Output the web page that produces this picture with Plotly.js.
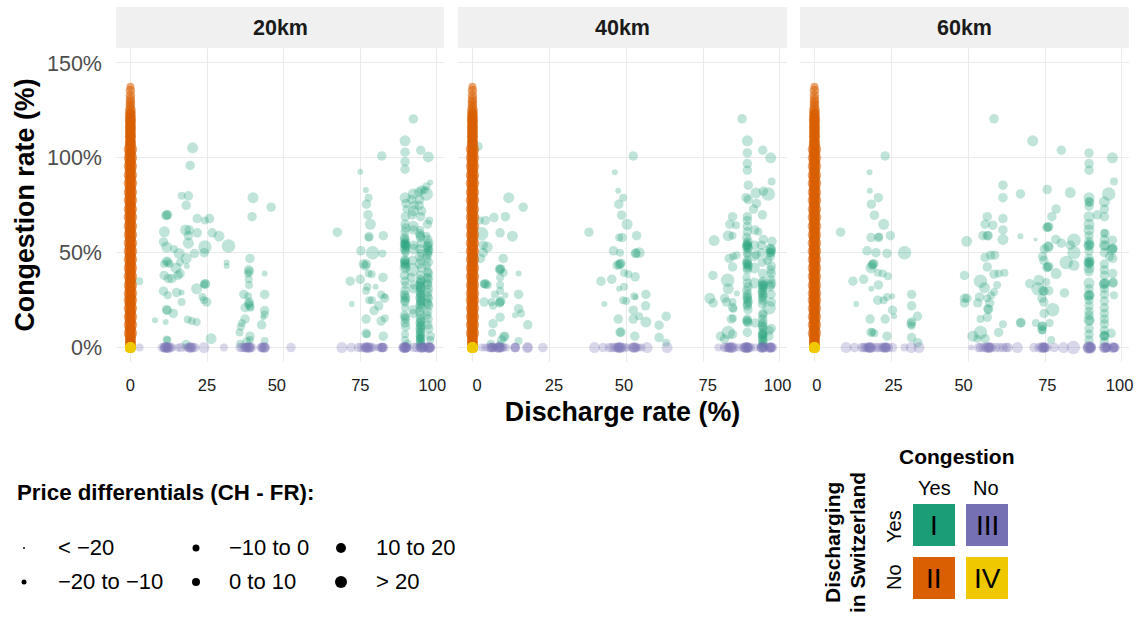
<!DOCTYPE html>
<html><head><meta charset="utf-8">
<script src="https://cdn.plot.ly/plotly-3.0.1.min.js"></script>
<style>html,body{margin:0;padding:0;background:#fff}</style></head>
<body><div id="chart" style="width:1139px;height:619px"></div>
<script>
// ---------- data: [discharge %, congestion %, price bin index] ----------
const panels = ['20km','40km','60km'];
const priceBins = ['< −20','−20 to −10','−10 to 0','0 to 10','10 to 20','> 20'];
const legendDiameter = [2,5,7,8,10,12];
const binDiameter = [4,6,8,9.5,11,13.5];
const quadrantNames = ['I','II','III','IV'];

const greenA = [
[2.9,35,2],[8,14.4,1],[11.5,13.5,1],[11.8,70,3],[12.2,70,3],[11.6,69.5,3],[11.1,61,4],[10.8,55.7,3],[11.8,53,4],[14.2,52,2],
[11.8,45.5,3],[12.2,45,3],[11,44,2],[12.8,44,2],[11,38,3],[12.4,36.4,3],[13.5,36.4,3],[14.9,42,4],[15.9,49.6,4],[16.2,45,2],
[16.2,39,3],[15.5,38,3],[10.8,29.7,3],[12.2,27.6,2],[11.8,20,3],[12,19.6,3],[14,18,3],[11.8,4.2,2],[12.1,3.8,2],[15.1,29,3],
[16.7,29,1],[16.7,24,2],[18.7,14.8,2],[20,14,2],[21.6,13.5,2],[18.2,47,4],[18.4,43,1],[20.9,49.6,3],[18,62,4],[19.2,62,3],
[18.9,59,3],[18.9,55,4],[21.8,60.5,3],[16.7,80,2],[18.9,80,3],[18.2,75,3],[19.5,96,3],[20.3,105.3,4],[21.8,68,3],[24.3,67,2],
[25.8,68,3],[26.7,60.5,3],[28.9,58.7,4],[32,53.6,5],[24.3,53,5],[24.1,50,3],[21.6,31,4],[24.3,33.7,3],[24.5,33.4,3],[24,33.2,2],
[23.5,26.7,2],[24.9,24,3],[24,25,2],[26.3,4.7,4],[18.2,1.6,3],[31.4,44.8,1],[31.4,43,1],
[39,47,3],[38.6,41,3],[38.8,40,3],[38.4,39,2],[38.6,36,2],[38.7,33,2],[37,28,3],[38.4,27,2],[38.8,24,3],[38.6,23,3],
[38.9,22,3],[37.4,21,3],[39.2,21,2],[37.4,15,3],[36.4,13,2],[36,11,2],[35.6,8,2],[39,6,3],[39,4,2],[38,3,3],[35.8,2,2],
[39.7,69,3],[40,79,4],[45.9,74,3],[43.8,39,1],[43.8,28,3],[43.8,19.5,3],[43.8,17.5,2],[43.3,16,1],[42.8,12,3],[43.8,3.5,2],
[75,92.7,1],[76.8,83,1],[77.7,79,2],[77,75.6,3],[77.5,70,3],[78.3,65,4],[77.9,58.5,3],[77.7,58,2],[82.5,59,3],[67.5,60.8,3],
[75.2,51,3],[79,50,5],[82.2,49.6,2],[76,44,3],[77,44,3],[76.6,43,3],[77.7,39,2],[78.7,38.6,2],[75,36,3],[71.7,35,3],
[77.3,32,2],[76.9,30,2],[72.2,23,1],[77.9,25,2],[78.8,25,2],[81.8,28,2],[82.9,26,3],[81,22,3],[79.5,19.5,3],[76.9,15,3],
[81.8,14,3],[83,15.5,2],[76.9,7.5,3],[77.1,7,2],[82.5,6,3],[82,101,3],[80,32,1],[82.4,37,3],[83,27,1],
[89.6,109,4],[89.6,103,3],[89.6,98,3],[89.6,94,3],[89.6,79,4],[89.9,76,3],[90,73,2],[89.7,69,3],[89.6,65,3],[89.8,63,3],
[89.6,61,3],[89.4,58,3],[89.7,56,3],[89.6,54,3],[89.9,54,3],[89.4,52,3],[89.7,50,2],[89.6,46,3],[89.5,45,3],[89.8,44,3],
[89.6,42,4],[89.4,38,3],[89.6,35,3],[89.7,33,2],[89.6,30,3],[89.4,28,3],[89.8,26,3],[89.6,24,3],[89.6,21,2],[89.4,17,3],
[89.7,15,3],[89.6,13,3],[89.8,11,3],[89.6,7,2],[89.6,4,2],[90.4,2,2],
[92.3,120.5,3],[92.3,81,4],[91.8,78,3],[92.6,75,3],[92.3,72,4],[91.9,70,3],[92.3,64,4],[92.4,54,3],[92,46,3],[92,41,5],
[91.5,37,3],[92.6,33,3],[92.3,31,3],[92.4,18,3],[92.2,20,3],
[94.7,104,3],[94,82,3],[95,83,3],[94.4,78,3],[94.2,75,3],[95,72,3],[94.7,69,3],[94.6,62,2],[94.4,60,3],[94.6,58,3],
[94.9,55,3],[94.4,52,3],[94.7,50,2],[94.3,48,3],[94.8,46,3],[94.3,44,3],[95,42,3],[94.6,38,3],[94.6,36,3],[94.8,35,3],
[94.5,33,3],[94.7,31,3],[94.6,30,3],[94.7,28,3],[94.5,26,3],[94.7,24,3],[94.6,23,3],[94.8,21,3],[94.4,19,3],[94.6,17,3],
[94.7,14,3],[94.5,13,3],[94.7,11,3],[94.6,9,3],[94.7,8,3],[94.6,6,3],[94.5,5,2],[94.7,3,3],[94.6,2,3],[94.8,1,3],
[97.2,100.5,4],[97.8,87,1],[96.6,85,2],[96,83,2],[96.5,81,5],[97.5,67,2],[96.9,65,3],[96.6,59,2],[97,57,3],[97.4,55,3],
[97,53,3],[97.3,51,3],[97,49,3],[96.6,47,3],[97.2,45,3],[96.8,43,2],[97.2,39,3],[97,37,3],[96.9,34,3],[97.2,31,3],
[97,29,3],[97.2,26,3],[96.8,24,3],[97.3,22,3],[97,19,3],[96.7,17,3],[97.1,15,3],[97,12,3],[97.3,10,3],[97.8,6,3],[97.8,4,2],
[89.6,55,3],[89.4,54.5,3],[89.8,53,3],[89.5,57,3],[89.7,51,3],[89.6,46,3],[89.4,44,3],[89.8,42.5,3],[89.6,27,3],[89.5,25,3],[89.7,16,3],
[94.6,34,3],[94.7,32,3],[94.5,29,3],[94.6,27,3],[94.7,25,3],[94.5,22,3],[94.6,15,3],[94.7,12,3],[94.5,10,3],[94.6,7,3],[94.7,5,3],[94.6,4,3],
[97,54,3],[97.2,52,3],[96.9,50,3],[97,40,3],[97.2,36,3],[97,33,3],[96.9,27,3],[97.1,23,3],[92.3,52,4],[92.4,62,3],[94.6,59,3]
];
const greenB = [
[1.8,106,3],[2.4,67,2],[4.2,67,3],[7,68.5,3],[10.7,69,3],[11.8,79,4],[16.5,74,3],[9,60.5,3],[13,58.7,4],[3,60,5],
[3.5,54,3],[4.8,53,4],[3.5,50,3],[2.6,47,3],[10,47,3],[9,41.6,3],[8.8,41,3],[9.2,41.2,3],[10.2,39.5,2],[15,39,1],
[9,37,2],[4,33.7,3],[4.3,33.4,3],[3.7,33.5,2],[5,33,2],[9,33,2],[9,30,2],[7.3,28,2],[10.7,27.6,1],[15,28,3],
[9,24,3],[9.2,24.5,3],[8.8,23.5,3],[3.8,24,3],[6.2,24,2],[6.7,22,2],[9,16,3],[15,20.5,3],[15.8,18,2],[13.8,17,1],
[18,12,3],[6.7,12.6,3],[6.4,7.7,2],[10.5,6,3],[10.2,5.6,3],[9.5,4,3],[15,3.5,2],[6,2,2],[9,1.6,2],
[52.3,101,3],[46.3,92.4,1],[47.4,82.6,1],[49,79,2],[47.6,75.6,3],[48.5,69.8,3],[50.3,65,4],[48.7,58,3],[47.7,58,2],[53.4,59,3],
[37.9,60.8,3],[45.9,51,3],[48,50,2],[53,49.6,3],[53.2,49.8,3],[54.2,50,4],[48,44,3],[48.3,44.4,3],[47.7,43.6,3],[47,43.4,3],
[49.3,39.4,2],[50.7,38.7,2],[52.9,37.3,3],[45.3,36,3],[41.8,35,3],[49.3,32,2],[47.7,31,1],[42.9,23,1],[49,25,2],[50,24.6,2],
[52.6,27,2],[56.4,28,3],[56.3,22,3],[52.3,19.7,3],[47.4,15,3],[52.3,15,3],[54.2,16.5,2],[56.4,13.5,4],[48,8,3],[48.3,8.2,3],
[52.8,6,3],[60.7,11.8,3],[63,16.5,3],[60.7,5.3,3],[63,2.6,2],[53,26.6,1],
[78.6,56.4,4],[83.2,59,4],[84.6,59,2],[84.6,69,3],[85.7,64.5,2],[83.7,65,3],[83.5,47,3],[84.8,48,2],[85.9,48.7,2],[84.6,42.5,3],
[78.2,38,3],[77.2,26,4],[78.3,23.5,3],[82,26,3],[83,35.5,5],[83.2,31,4],[86,28.5,1],[82.6,24,3],[84.6,24,2],[84.6,21,3],
[84.9,20.5,2],[84.2,15,3],[84.7,15.4,2],[83.2,8,5],[80.7,6,3],[82,4.5,3],[84.6,7,3],
[87.7,120.6,3],[89.4,109,4],[94.4,104,3],[97,100,4],[89.4,102.6,3],[89.4,97,3],[89.4,93.5,3],[97.3,87.5,2],[89.7,85.6,3],[92.2,81.5,4],
[94.6,82.4,3],[96.2,81,5],[89,79,3],[89.7,78,3],[92.4,76,3],[91.4,73,3],[94.3,70,3],[89.4,69,3],[89.4,67,3],[89.4,64,3],
[91.8,62,3],[93,61,2],[89.4,61,3],[89.2,58,3],[89.6,56,3],[89.4,54,3],[89.1,53,3],[89.7,52,3],[91.8,54,3],[94,54,3],
[94.6,57,3],[92.3,49,3],[89.4,49,2],[89.4,46,3],[89.2,44,3],[89.7,43,3],[89.4,41,3],[91.7,42,4],[94.3,45,3],[96,46,3],
[96.9,52,4],[97.2,51,3],[96.8,50,3],[97.4,56,3],[97.2,43,3],[89.1,37,2],[89.4,34,3],[89.6,32,3],[89.2,30,3],[89.5,28,3],
[89.4,26,3],[89.7,24,3],[89.4,22,3],[89.6,20,3],[89.4,15,3],[89.2,14,3],[89.6,13,3],[92,13,3],[89.4,8,3],[91.7,34,4],
[94.4,39,3],[94.5,35,3],[94.3,34,3],[94.6,33,3],[94.4,31,3],[94.3,29,3],[94.5,27,3],[94.4,25,3],[94.3,23,3],[94.5,18,3],
[94.4,17,3],[94.5,13,3],[94.3,12,3],[94.4,11,3],[94.5,8,3],[94.3,7,3],[94.4,6,3],[94.4,4,3],[94.5,2,3],[94.4,1,3],
[97.2,39,3],[97,36,3],[97.3,34,3],[96.8,32,3],[97.1,28,3],[96.5,21,5],[97.2,24,3],[97.2,10,3],[96.5,9,3],[96.4,6,3],
[89.4,55,3],[89.2,54,3],[89.6,53,3],[89.4,50,3],[89.3,45,3],[89.5,44,3],[89.4,42,3],[89.3,27,3],[89.5,25,3],[89.4,23,3],[89.4,14,3],
[94.4,33,3],[94.5,32,3],[94.3,30,3],[94.4,28,3],[94.4,26,3],[94.4,15,3],[94.5,10,3],[94.4,7,3],[94.4,5,3],[94.5,3,3],
[97,52,3],[97.1,50,3],[96.9,48,3],[97,41,3],[97,33,3],[91.8,48,3],[94,50,3]
];
const greenC = [
[8.5,60.8,3],[17.9,92.4,1],[18,82.6,1],[20.8,79,3],[18.5,75.6,3],[19.5,69.8,3],[22.5,65,4],[18.4,58,3],[20.8,58,3],[21,58.4,2],
[24.7,59,3],[23,101,3],[17.1,51,3],[20,50,3],[23.6,49.6,3],[29.3,50,5],[19,43.8,3],[19.3,44.2,3],[18.7,43.5,3],[18.4,42,4],
[20.6,39.4,2],[22.2,39,2],[23.9,37.6,2],[16,36,3],[12.5,35,3],[20.8,33,3],[18.5,31,1],[13.6,23,1],[20.6,25,3],[22.5,25,2],
[23.6,26.7,2],[25.3,27,1],[31.6,28,3],[31.6,22,3],[25.4,19.7,3],[25.9,16.5,1],[18.1,15,3],[23,15,3],[33.5,16.5,3],[31.6,13.5,3],
[31.4,12.5,3],[31.6,11.5,2],[18.4,8,3],[18.8,8.2,2],[19.5,7.5,2],[23.6,6,3],[31.6,5.3,3],[33.6,2.6,3],
[58.4,120.6,3],[71,109,4],[80.3,104,3],[61.3,85.6,3],[61.3,79,3],[67,81,3],[75.7,83.3,3],[83.2,81.7,4],[78.6,73,3],[77.2,69,3],
[56.2,69,3],[55.5,65,3],[58,64.5,3],[61.3,68,3],[61.3,62,3],[61.3,57,4],[56.2,59,3],[56.5,59,3],[54.8,59,3],[49.5,56,4],
[67,58.7,1],[71.9,57,0],[75.9,63.5,3],[76.2,63.7,3],[75.6,63.3,3],[78.5,57,3],[80.3,55,3],[84.4,56.6,5],[83.2,54,3],[84.4,50,5],
[75.9,53,4],[76.2,53.4,3],[74.8,52,3],[74.2,48,3],[74.6,46,3],[81.9,44.8,5],[84.4,43.4,4],[75.9,42.5,3],[76.2,42.8,3],[75.6,42.2,3],
[78.6,39,4],[57.3,48.7,3],[58.6,48.7,3],[55.5,47.5,3],[56.2,42.5,3],[58.4,38.7,3],[59.9,39,2],[61.8,39.4,2],[48.8,38,3],[54,35,5],
[55.3,31.6,4],[59.4,33,2],[58.4,29.3,2],[57.5,27.6,2],[48.8,26,3],[49.6,26,3],[48.8,23.5,3],[53.7,26.7,3],[53.1,23.5,3],[56.2,26,2],
[57,23.5,3],[56.4,20.5,3],[56.6,20,3],[56.2,16,3],[54,15,2],[61.3,12.3,2],[59.9,8,3],[67,13,3],[67.2,13.2,3],[54,8,5],
[51.5,6,4],[55.5,4.7,3],[53,4.7,2],
[70,33.7,3],[73,35.5,4],[72.7,31,5],[75.4,34.5,2],[74.3,30,3],[74.7,29.8,3],[74,26,3],[76.2,30,3],[74.6,24,3],[77.5,20,5],
[74.7,18,3],[76.5,13,2],[72,13,2],[74,11,3],[74.2,11.4,3],[74,9.5,3],[74.1,9,2],[77,4,2],[81.3,28.8,3],
[89.3,102.6,3],[89.3,97,3],[89.3,93.5,3],[89.3,79,4],[89.3,76.8,3],[89.5,76.6,3],[89.3,74.5,3],[89.3,69,4],[89.3,65,4],[89.3,62,4],
[89.3,59,3],[89.3,54,4],[89.5,54.4,3],[89.1,53.6,3],[89.3,45,4],[89.5,45.4,3],[89.1,44.6,3],[89.4,44,3],[89.3,42,4],[89.3,34,4],
[89.3,27.5,4],[89.5,27.8,3],[89.1,27.2,3],[89.3,22,3],[89.3,14.5,4],[89.5,14.2,3],[89.3,10,3],[89.3,4,3],
[92,70,3],[94.3,76.8,4],[95.7,81,5],[97.4,87.5,2],[96.9,100,4],
[94.3,73,3],[94.3,69,3],[94.3,60.5,2],[94.5,60,3],[94.3,54,4],[94.5,53.6,3],[94.3,44,3],[94.3,41,3],[94.3,33.7,4],[94.5,34,3],
[94.1,33.4,3],[94.3,24.5,3],[94.3,18,3],[94.3,12.5,3],[94.3,6.5,3],[94.5,6.2,3],[94.1,6,3],[94.3,3,3],
[96.9,56.6,3],[96.9,52,3],[97.1,52.4,3],[96.7,51.6,4],[96,48,3],[97,47,3],[97,39,3],[97,34,3],[97.2,34.4,3],[97.4,27.6,2],[96.5,7.5,3],
[89.3,56,3],[89.3,51,3],[89.3,47,3],[89.3,40,3],[89.3,31,3],[89.3,25,3],[89.3,19,3],[89.3,17,3],[89.3,7,3],
[94.3,57,3],[94.3,50,3],[94.3,38,3],[94.3,31,3],[94.3,28,3],[94.3,21,3],[94.3,15,3],[94.3,9,3]
];
const purpleA = [[3,0,2],[10.4,0,3],[11,0,3],[11.5,0,4],[12,0,3],[12.5,0,4],[13,0,2],[13.4,0,3],[15.5,0,2],[16.5,0,3],[18,0,2],[19,0,3],[19.6,0,4],[20.4,0,3],[21,0,3],[24,0,4],[30.5,0,2],
[35.8,0,3],[36.5,0,3],[37.3,0,3],[38,0,3],[38.6,0,4],[39,0,3],[39.6,0,3],[42.6,0,3],[43,0,3],[43.6,0,4],[44,0,3],[52.4,0,3],[69,0,4],[72,0,3],[74.4,0,3],[75.4,0,3],[76.4,0,3],[77,0,4],[77.6,0,4],[78,0,3],[78.6,0,3],[79.4,0,2],[81,0,2],[81.8,0,3],[82.2,0,3],[82.6,0,3],
[89,0,3],[89.5,0,4],[89.9,0,3],[90.3,0,3],[92.5,0,3],[93.4,0,3],[94.5,0,3],[95,0,4],[95.6,0,3],[96,0,3],[97,0,3],[97.4,0,4],[97.8,0,3],[98,0,3],
[11.2,0,3],[11.8,0,4],[12.2,0,3],[37.6,0,3],[38.3,0,3],[38.9,0,3],[43.3,0,3],[43.8,0,3],[76.8,0,3],[77.3,0,3],[82,0,3],[82.4,0,3],[89.2,0,4],[89.7,0,4],[89.4,0,3],[90,0,3],[94.8,0,3],[95.3,0,3],[97.2,0,4],[97.6,0,3],[19.4,0,3],[19.8,0,3]];
const purpleB = [[3,0,2],[4.2,0,2],[5.4,0,3],[6,0,3],[6.5,0,3],[7,0,2],[8,0,3],[8.6,0,4],[9,0,3],[9.6,0,3],[10.2,0,2],[11,0,2],[13.8,0,3],[14,0,3],[17.9,0,4],[18,0,3],[22.9,0,3],
[39.7,0,4],[42.5,0,3],[44.5,0,3],[45.4,0,3],[46.2,0,3],[47,0,3],[47.6,0,4],[48,0,4],[48.6,0,3],[49.4,0,3],[50.4,0,2],[52,0,3],[52.6,0,4],[53.2,0,3],[54,0,2],[55,0,2],[56.8,0,4],[63.3,0,4],
[80,0,2],[82,0,3],[82.6,0,3],[83.2,0,3],[83.8,0,4],[84.4,0,4],[85,0,3],[86.4,0,2],[88,0,3],[88.6,0,3],[89,0,4],[89.4,0,4],[89.8,0,3],[90.4,0,3],[92,0,2],[93.8,0,3],[94.2,0,4],[94.6,0,3],[95,0,3],[96.4,0,3],[96.8,0,4],[97.2,0,3],[97.6,0,3],
[6.2,0,3],[6.8,0,3],[8.4,0,3],[8.9,0,3],[13.9,0,3],[47.4,0,3],[47.9,0,3],[52.4,0,3],[52.9,0,3],[83.6,0,3],[84.2,0,3],[88.9,0,4],[89.3,0,3],[89.6,0,3],[94.1,0,3],[94.4,0,3],[96.9,0,3],[97.1,0,3]];
const purpleC = [[10.3,0,4],[13,0,3],[15.4,0,3],[16,0,3],[16.6,0,3],[17.2,0,3],[17.8,0,4],[18.2,0,4],[18.8,0,3],[20,0,3],[20.8,0,3],[21.8,0,3],[22.4,0,3],[23,0,4],[23.4,0,3],[24,0,3],[25.4,0,3],[29.3,0,2],[31.5,0,4],[34,0,4],
[51,0,1],[53.4,0,3],[54,0,3],[55,0,3],[55.8,0,3],[56.4,0,4],[57,0,4],[57.6,0,3],[59,0,3],[60.2,0,3],[61.4,0,3],[62.4,0,3],[63,0,3],[66,0,4],[71.4,0,3],[73,0,3],[74,0,4],[74.6,0,4],[75,0,3],[75.6,0,3],[78,0,3],[81,0,4],[84.2,0,5],
[89,0,4],[89.4,0,5],[89.8,0,4],[90,0,3],[94.2,0,4],[94.6,0,4],[95,0,3],[95.4,0,3],[97,0,4],[97.4,0,3],[97.8,0,3],
[17.9,0,3],[18.1,0,3],[22.9,0,3],[23.2,0,3],[56.6,0,3],[56.9,0,3],[74.2,0,3],[74.8,0,3],[74.5,0,3],[89.2,0,4],[89.5,0,4],[89.6,0,3],[94.4,0,3],[94.8,0,3],[97.2,0,3],[97.5,0,3]];
const orangeY = [0,0.6,1.3,2,2.7,3.3,4,4.8,5.5,6.1,7,7.7,8.2,9,9.8,10.5,11.1,12,12.8,13.4,14,15,15.6,16.3,17,17.9,18.5,19.2,20,20.8,21.3,22,23,23.6,24.4,25,25.9,26.5,27.2,28,28.7,29.5,30,31,31.8,32.4,33,34,34.6,35.3,36,36.9,37.5,38.2,39,39.8,40.4,41,42,42.7,43.3,44,45,45.6,46.4,47,47.9,48.5,49.2,50,50.8,51.4,52,53,53.7,54.3,55,56,56.6,57.4,58,58.9,59.5,60.2,61,62,62.6,63.3,64,65,65.5,66.2,67,68,68.7,69.3,70,71,71.6,72.4,73,74,74.5,75.3,76,77,77.6,78.2,79,80,80.8,81.4,82,83,83.5,84.4,85,86,86.6,87.2,88,89,89.8,90.3,91,92,92.6,93.4,94,95,95.7,96.2,97,98,98.8,99.4,100,101,101.8,102.4,103,104,104.6,105.4,106,107,107.7,108.2,109,110,110.8,111.4,112,113,113.6,114.5,115,116,116.8,117.4,118,119,119.8,120.4,121,122,122.6,123.4,124,125,126.5,128,129.5,131,133,135.5,137.5,150];
const orangeBin = [3,4,4,4,3,4,4,3,4,4,3,5,4,3,4,4,3,5,4,3,4,4,3,5,4,3,4,4,3,5,4,3,4,4,3,5,4,4,3,4,5,3,4,4,3,4,5,3,4,4,3,4,5,3,4,4,3,4,5,3,4,4,3,4,5,3,4,4,3,4,5,3,4,4,3,4,5,3,4,4,3,4,5,3,4,4,3,4,5,3,4,4,3,4,5,3,4,4,3,4,5,3,4,4,3,4,5,3,4,4,3,4,5,3,4,4,3,4,5,3,4,4,3,4,5,3,4,4,3,4,5,3,4,4,3,4,5,3,4,4,3,4,5,3,4,3,4,4,3,4,3,4,4,3,4,3,4,4,3,4,3,4,4,3,4,3,4,3,3,4,3,3,3,3,3,3,2];
const yellowPts = [[0,0,4],[0,0,4],[0,0,4],[0,0,4],[0,0,4],[0,0,4]];

// tick labels (non-breaking padding reproduces the reference's label drift)
const tickVals = [0,25,50,75,100];
const tickTextA = ['0','25','50\u00a0\u00a0\u00a0','75','100\u00a0\u00a0'];
const tickTextB = ['\u00a0\u00a00','\u00a0\u00a025','50\u00a0','\u00a0\u00a075','100\u00a0'];
const tickTextC = ['\u00a00','\u00a025','50\u00a0\u00a0','\u00a075','100\u00a0'];
const yTicks = [0,50,100,150];
const yTickText = ['0%','50%','100%','150%'];

const W=1139,H=619;
const px=x=>x/W, py=y=>1-y/H;
const domains=[[116,444],[458,787],[800,1129]];
const green=[greenA,greenB,greenC], purple=[purpleA,purpleB,purpleC], ticks=[tickTextA,tickTextB,tickTextC];
const FONT='Liberation Sans, Arial, sans-serif';

const rowTrace=(rows,color,op,i,name)=>({type:'scatter',mode:'markers',name,xaxis:'x'+(i?i+1:''),yaxis:'y'+(i?i+1:''),
  x:rows.map(r=>r[0]),y:rows.map(r=>r[1]),hoverinfo:'skip',cliponaxis:false,
  marker:{color,opacity:op,line:{width:0},size:rows.map(r=>binDiameter[r[2]])}});
const traces=[];
panels.forEach((p,i)=>{
  traces.push(rowTrace(green[i],'#1b9e77',0.28,i,'I'));
  traces.push(rowTrace(purple[i],'#7570b3',0.28,i,'III'));
  traces.push(rowTrace(orangeY.map((y,k)=>[0,y,orangeBin[k]]),'#d95f02',0.55,i,'II'));
  traces.push(rowTrace(yellowPts,'#f0c800',0.8,i,'IV'));
});

const layout={width:W,height:H,margin:{l:0,r:0,t:0,b:0},showlegend:false,paper_bgcolor:'#fff',plot_bgcolor:'#fff',
  font:{family:FONT,color:'#000'},shapes:[],annotations:[]};
panels.forEach((p,i)=>{
  const s=i?i+1:'';
  layout['xaxis'+s]={domain:[px(domains[i][0]),px(domains[i][1])],range:[-4.7,102.3],anchor:'y'+s,tickmode:'array',tickvals:tickVals,ticktext:ticks[i],
    showgrid:true,gridcolor:'#ebebeb',gridwidth:1,zeroline:false,showline:false,ticks:'',ticklabelstandoff:11,tickangle:0,
    tickfont:{size:16.5,color:'#1a1a1a',family:FONT},fixedrange:true};
  layout['yaxis'+s]={domain:[py(362),py(48)],range:[-7.6,157.9],anchor:'x'+s,tickmode:'array',tickvals:yTicks,ticktext:yTickText,showticklabels:i===0,
    showgrid:true,gridcolor:'#ebebeb',gridwidth:1,zeroline:false,showline:false,ticks:'',ticklabelstandoff:13,
    tickfont:{size:21.5,color:'#4d4d4d',family:FONT},fixedrange:true};
  layout.shapes.push({type:'rect',xref:'paper',yref:'paper',x0:px(domains[i][0]),x1:px(domains[i][1]),y0:py(48),y1:py(7),fillcolor:'#f0f0f0',line:{width:0},layer:'below'});
  layout.annotations.push(txt(p,(domains[i][0]+domains[i][1])/2,28,21.5,true,0,'center','#1a1a1a'));
});
layout.xaxis2.title={text:'<b>Discharge rate (%)</b>',font:{size:26.8,color:'#000',family:FONT},standoff:9};
layout.yaxis.title={text:'<b>Congestion rate (%)</b>',font:{size:26.8,color:'#000',family:FONT},standoff:4};

function txt(t,x,y,size,bold,angle,anchor,color){
  return {text:bold?'<b>'+t+'</b>':t,xref:'paper',yref:'paper',x:px(x),y:py(y),xanchor:anchor||'center',yanchor:'middle',showarrow:false,
    textangle:angle||0,font:{size,color:color||'#000',family:FONT},borderpad:0};
}
// price legend
layout.annotations.push(txt('Price differentials (CH - FR):',16,492,22.3,true,0,'left'));
const legendCols=[[24,57],[196,228],[341,375]], legendRows=[547,581];
priceBins.forEach((b,k)=>{
  const c=legendCols[Math.floor(k/2)], y=legendRows[k%2], r=legendDiameter[k]/2;
  layout.shapes.push({type:'circle',xref:'paper',yref:'paper',x0:px(c[0]-r),x1:px(c[0]+r),y0:py(y+1+r),y1:py(y+1-r),fillcolor:'#000',line:{width:0}});
  layout.annotations.push(txt(b,c[1],y,22,false,0,'left'));
});
// quadrant key
const keySquares=[[913,504,'#1b9e77',0],[913,557,'#d95f02',1],[966,504,'#7570b3',2],[966,557,'#f0c800',3]];
keySquares.forEach(q=>{
  layout.shapes.push({type:'rect',xref:'paper',yref:'paper',x0:px(q[0]),x1:px(q[0]+42),y0:py(q[1]+42),y1:py(q[1]),fillcolor:q[2],line:{width:0}});
  layout.annotations.push(txt(quadrantNames[q[3]],q[0]+21,q[1]+21,28,false,0,'center','#000'));
});
layout.annotations.push(txt('Congestion',957,456,21,true));
layout.annotations.push(txt('Yes',934,488,20,false));
layout.annotations.push(txt('No',986,488,20,false));
layout.annotations.push(txt('Yes',894,526,20,false,-90));
layout.annotations.push(txt('No',894,577,20,false,-90));
layout.annotations.push(txt('Discharging',832,543,21,true,-90));
layout.annotations.push(txt('in Switzerland',857,543,21,true,-90));

Plotly.newPlot('chart',traces,layout,{staticPlot:true,displayModeBar:false});
</script></body></html>
